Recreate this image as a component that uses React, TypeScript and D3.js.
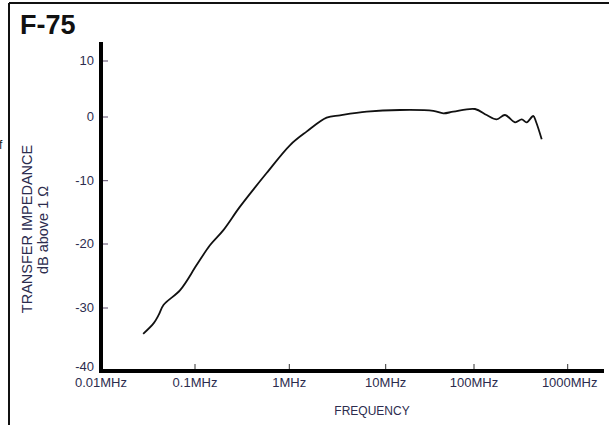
import React from 'react';
import * as d3 from 'd3';

// F-75 transfer impedance curve
const freqMHz = [
  0.0281, 0.0364, 0.0411, 0.0464, 0.0695, 0.104, 0.144, 0.2, 0.3, 0.575, 1.02, 1.51, 2.44,
  3.36, 6.35, 14.5, 34.6, 44.9, 58.3, 102.5, 136.6, 174.7, 214, 274, 323, 365, 429, 459, 528,
];
const impedanceDb = [
  -34.1, -32.4, -31.1, -29.5, -27.2, -23.3, -20.2, -17.8, -14.1, -8.8, -4.4, -2.3, -0.1, 0.3,
  0.95, 1.25, 1.1, 0.66, 0.95, 1.43, 0.36, -0.36, 0.36, -0.83, -0.36, -0.83, 0.18, -0.74, -3.5,
];

const xTicks = [0.01, 0.1, 1, 10, 100, 1000];
const xTickLabels = ['0.01MHz', '0.1MHz', '1MHz', '10MHz', '100MHz', '1000MHz'];
const yTicks = [10, 0, -10, -20, -30, -40];

const W = 609;
const H = 425;
const font = '"Liberation Sans", Arial, sans-serif';
const textColor = '#2c2c4e';

export default function App() {
  // the scan is not perfectly even, so the scales are piecewise per decade
  const x = d3
    .scaleLog()
    .domain([0.01, 0.1, 1, 10, 100, 1000])
    .range([101, 195, 289.3, 385.7, 474, 567.7]);
  const y = d3
    .scaleLinear()
    .domain([10, 0, -10, -20, -30, -40])
    .range([61, 117, 180.7, 244, 308, 371]);

  const line = d3
    .line<number>()
    .x((_, i) => x(freqMHz[i]))
    .y((d) => y(d))
    .curve(d3.curveCatmullRom.alpha(0.5));

  return (
    <svg
      width={W}
      height={H}
      style={{ position: 'absolute', left: 0, top: 0, background: '#fff' }}
    >
      {/* frame */}
      <line x1={9} y1={3} x2={W} y2={3} stroke="#111" strokeWidth={2} />
      <line x1={9} y1={3} x2={9} y2={H} stroke="#111" strokeWidth={2} />
      <text x={-1} y={149} fontFamily={font} fontSize={12} fill="#222">
        f
      </text>

      <text x={20} y={34} fontFamily={font} fontSize={27} fontWeight="bold" fill="#111">
        F-75
      </text>

      {/* y ticks */}
      {yTicks.map((t) => (
        <g key={t}>
          {t > -40 && (
            <line x1={101} x2={108} y1={y(t)} y2={y(t)} stroke="#5a4a6a" strokeWidth={1} />
          )}
          <text
            x={94}
            y={t === -40 ? y(t) - 3 : y(t) + 1}
            textAnchor="end"
            dominantBaseline="middle"
            fontFamily={font}
            fontSize={13}
            fill={textColor}
          >
            {t}
          </text>
        </g>
      ))}

      {/* x ticks */}
      {xTicks.map((t, i) => (
        <g key={t}>
          {i > 0 && (
            <line x1={x(t)} x2={x(t)} y1={371} y2={364} stroke="#333" strokeWidth={1} />
          )}
          <text
            x={x(t) + (i === 5 ? 2 : 0)}
            y={387}
            textAnchor="middle"
            fontFamily={font}
            fontSize={13}
            fill={textColor}
          >
            {xTickLabels[i]}
          </text>
        </g>
      ))}

      {/* axes */}
      <line x1={101} y1={42} x2={101} y2={373} stroke="#000" strokeWidth={4} />
      <line x1={99} y1={371} x2={604} y2={371} stroke="#000" strokeWidth={4} />

      <path d={line(impedanceDb) ?? ''} fill="none" stroke="#111" strokeWidth={1.8} />

      {/* axis titles */}
      <text
        transform="translate(32,229) rotate(-90)"
        textAnchor="middle"
        fontFamily={font}
        fontSize={14.5}
        fill={textColor}
      >
        TRANSFER IMPEDANCE
      </text>
      <text
        transform="translate(48,230) rotate(-90)"
        textAnchor="middle"
        fontFamily={font}
        fontSize={14.5}
        fill={textColor}
      >
        dB above 1 Ω
      </text>
      <text
        x={372}
        y={415}
        textAnchor="middle"
        fontFamily={font}
        fontSize={12}
        fill={textColor}
      >
        FREQUENCY
      </text>
    </svg>
  );
}
